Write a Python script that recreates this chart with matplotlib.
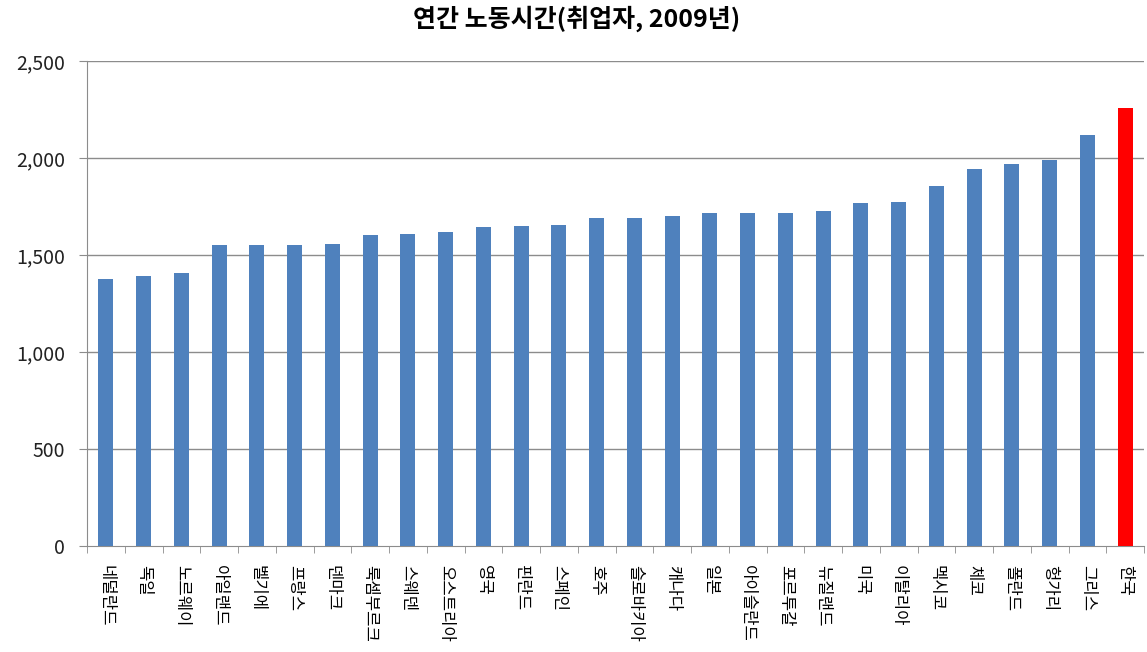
import numpy as np
import matplotlib
matplotlib.use('Agg')
import matplotlib.pyplot as plt

plt.rcParams['font.family'] = ['Noto Sans CJK KR', 'DejaVu Sans']

#--data
countries = ['네덜란드', '독일', '노르웨이', '아일랜드', '벨기에', '프랑스', '덴마크',
             '룩셈부르크', '스웨덴', '오스트리아', '영국', '핀란드', '스페인', '호주',
             '슬로바키아', '캐나다', '일본', '아이슬란드', '포르투갈', '뉴질랜드', '미국',
             '이탈리아', '멕시코', '체코', '폴란드', '헝가리', '그리스', '한국']
hours = [1378, 1390, 1407, 1549, 1550, 1554, 1559, 1601, 1610, 1621, 1646, 1652,
         1654, 1690, 1693, 1699, 1714, 1716, 1719, 1729, 1768, 1773, 1857, 1942,
         1969, 1989, 2119, 2256]
yticks = [0, 500, 1000, 1500, 2000, 2500]
highlight = '한국'

blue = '#4F81BD'
red = '#FF0000'
grid = '#8C8C8C'

fig = plt.figure(figsize=(11.47, 6.52), dpi=100)
ax = fig.add_axes([87/1147, 1-546/652, (1144-87)/1147, (546-61)/652])

x = np.arange(len(countries))
colors = [red if c == highlight else blue for c in countries]
ax.bar(x, hours, width=0.4, color=colors, zorder=3)

ax.set_xlim(-0.5, len(countries)-0.5)
ax.set_ylim(0, 2500)
ax.set_yticks(yticks)
ax.set_yticklabels(['{:,}'.format(v) for v in yticks], fontsize=14, color='#222222')
for v in yticks[1:]:
    ax.axhline(v, color=grid, lw=1, zorder=1)

ax.set_xticks(x)
ax.set_xticklabels(countries, rotation=-90, fontsize=12, va='top', ha='center')
ax.set_xticks(np.arange(len(countries)+1)-0.5, minor=True)
ax.tick_params(axis='x', which='major', length=0, pad=14)
ax.tick_params(axis='x', which='minor', length=5, color=grid, direction='out')
ax.tick_params(axis='y', length=6, color=grid, direction='out', pad=10)

for s in ['top', 'right']:
    ax.spines[s].set_visible(False)
ax.spines['left'].set_color(grid)
ax.spines['bottom'].set_color(grid)

fig.text(577/1147, 1-19/652, '연간 노동시간(취업자, 2009년)', ha='center', va='center',
         fontsize=18, fontweight='bold')

fig.savefig('out.png', dpi=100)
